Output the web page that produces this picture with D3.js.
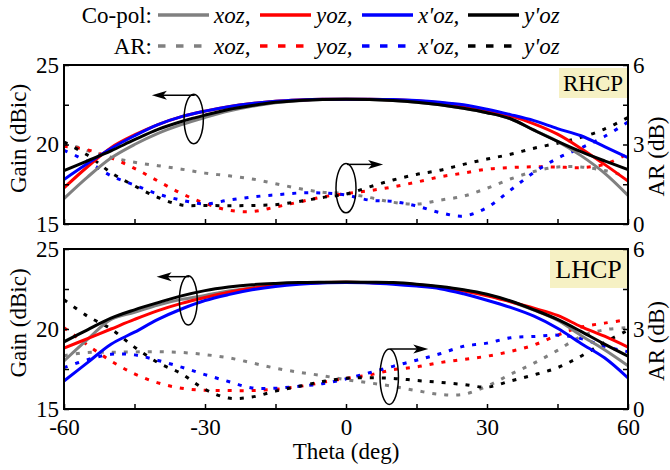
<!DOCTYPE html>
<html>
<head>
<meta charset="utf-8">
<script src="https://cdn.jsdelivr.net/npm/d3@7"></script>
<style>
  body { margin: 0; background: #fff; }
  svg { display: block; font-family: "Liberation Serif", "Times New Roman", serif; }
</style>
</head>
<body>
<svg id="chart" width="670" height="470"></svg>
<script>
// Observation angles (deg)
const theta = [-60, -55, -50, -45, -40, -35, -30, -25, -20, -15, -10, -5, 0,
               5, 10, 15, 20, 25, 30, 35, 40, 45, 50, 55, 60];

const xTickValues = [-60, -45, -30, -15, 0, 15, 30, 45, 60];
const xTickLabels = [-60, -30, 0, 30, 60];
const gainTickValues = [15, 17.5, 20, 22.5, 25];
const gainTickLabels = [15, 20, 25];
const arTickValues = [0, 1.5, 3, 4.5, 6];
const arTickLabels = [0, 3, 6];

const planeNames = ["xoz,", "yoz,", "x'oz,", "y'oz"];
const planeColors = ["#808080", "#ff0000", "#0000ff", "#000000"];

// RHCP co-pol gain (dBic)
const rhcpGainXoz  = [16.6, 17.95, 19.15, 20.0, 20.7, 21.25, 21.7, 22.1, 22.4, 22.62, 22.75, 22.83, 22.85, 22.83, 22.77, 22.66, 22.5, 22.28, 22.0, 21.62, 20.9, 20.2, 19.3, 18.2, 16.8];
const rhcpGainYoz  = [17.27, 18.6, 19.8, 20.6, 21.25, 21.75, 22.1, 22.38, 22.58, 22.72, 22.8, 22.85, 22.85, 22.85, 22.82, 22.75, 22.62, 22.43, 22.15, 21.8, 21.3, 20.65, 19.75, 18.75, 17.7];
const rhcpGainX2oz = [17.8, 18.8, 19.75, 20.55, 21.25, 21.75, 22.1, 22.38, 22.58, 22.72, 22.8, 22.85, 22.85, 22.85, 22.83, 22.77, 22.66, 22.5, 22.22, 21.88, 21.5, 21.0, 20.55, 19.87, 19.17];
const rhcpGainY2oz = [18.35, 18.97, 19.6, 20.3, 20.95, 21.45, 21.85, 22.2, 22.45, 22.65, 22.77, 22.83, 22.85, 22.83, 22.77, 22.66, 22.5, 22.28, 22.0, 21.62, 20.9, 20.2, 19.55, 18.97, 18.42];

// RHCP axial ratio (dB)
const rhcpArXoz  = [3.09, 2.77, 2.52, 2.33, 2.2, 2.07, 1.92, 1.82, 1.7, 1.52, 1.34, 1.2, 1.15, 1.0, 0.82, 0.75, 0.9, 1.05, 1.35, 1.7, 1.98, 2.15, 2.15, 2.02, 1.78];
const rhcpArYoz  = [2.93, 2.8, 2.5, 2.1, 1.62, 1.15, 0.78, 0.52, 0.47, 0.64, 0.83, 1.02, 1.15, 1.26, 1.4, 1.58, 1.78, 1.92, 2.07, 2.13, 2.16, 2.15, 2.13, 2.25, 2.65];
const rhcpArX2oz = [2.78, 2.36, 1.82, 1.47, 1.13, 0.9, 0.76, 0.9, 1.02, 1.1, 1.17, 1.17, 1.09, 0.9, 0.85, 0.68, 0.43, 0.3, 0.62, 1.28, 1.95, 2.48, 2.87, 3.3, 3.85];
const rhcpArY2oz = [3.09, 2.6, 1.94, 1.44, 1.0, 0.72, 0.7, 0.69, 0.7, 0.73, 0.85, 1.0, 1.13, 1.4, 1.66, 1.87, 2.03, 2.25, 2.45, 2.63, 2.86, 3.05, 3.27, 3.58, 4.02];

// LHCP co-pol gain (dBic)
const lhcpGainXoz  = [18.0, 19.35, 20.6, 21.05, 21.5, 21.85, 22.1, 22.37, 22.58, 22.74, 22.84, 22.9, 22.92, 22.91, 22.88, 22.78, 22.62, 22.42, 22.13, 21.72, 21.18, 20.55, 19.6, 18.7, 17.7];
const lhcpGainYoz  = [18.8, 19.4, 20.0, 20.6, 21.15, 21.6, 21.97, 22.3, 22.55, 22.72, 22.84, 22.9, 22.92, 22.9, 22.86, 22.77, 22.6, 22.38, 22.08, 21.7, 21.3, 20.85, 20.15, 19.55, 18.87];
const lhcpGainX2oz = [16.75, 17.9, 19.05, 19.8, 20.6, 21.25, 21.78, 22.15, 22.45, 22.66, 22.8, 22.88, 22.9, 22.88, 22.8, 22.68, 22.52, 22.2, 21.8, 21.35, 20.8, 20.05, 19.1, 18.2, 16.94];
const lhcpGainY2oz = [19.2, 19.95, 20.68, 21.2, 21.65, 22.07, 22.4, 22.62, 22.77, 22.85, 22.9, 22.92, 22.93, 22.92, 22.9, 22.8, 22.65, 22.45, 22.17, 21.75, 21.2, 20.6, 19.85, 19.05, 18.3];

// LHCP axial ratio (dB)
const lhcpArXoz  = [2.0, 2.12, 2.13, 2.14, 2.15, 2.12, 2.04, 1.92, 1.73, 1.53, 1.38, 1.25, 1.1, 0.98, 0.85, 0.69, 0.55, 0.55, 0.86, 1.3, 1.72, 2.2, 2.72, 2.97, 3.05];
const lhcpArYoz  = [3.05, 2.4, 1.8, 1.32, 0.98, 0.78, 0.7, 0.69, 0.69, 0.74, 0.84, 1.0, 1.15, 1.28, 1.47, 1.58, 1.74, 1.86, 1.98, 2.16, 2.4, 2.77, 3.07, 3.22, 3.35];
const lhcpArX2oz = [1.55, 1.85, 2.05, 2.03, 1.82, 1.57, 1.29, 1.03, 0.79, 0.78, 0.85, 0.95, 1.13, 1.36, 1.6, 1.83, 2.07, 2.35, 2.47, 2.67, 2.72, 2.77, 2.64, 2.35, 2.15];
const lhcpArY2oz = [4.1, 3.48, 3.0, 2.32, 1.74, 1.32, 0.74, 0.41, 0.45, 0.67, 0.85, 1.03, 1.15, 1.17, 1.15, 1.07, 1.0, 0.92, 0.82, 1.05, 1.28, 1.55, 1.98, 2.5, 2.95];

const svg = d3.select("#chart");
const left = 64, right = 628;
const x = d3.scaleLinear().domain([-60, 60]).range([left, right]);

const panels = [
  {
    name: "RHCP", top: 65, bottom: 224, showX: false,
    gain: [rhcpGainXoz, rhcpGainYoz, rhcpGainX2oz, rhcpGainY2oz],
    ar: [rhcpArXoz, rhcpArYoz, rhcpArX2oz, rhcpArY2oz],
    badge: { x0: 559, y0: 68, h: 30, fs: 23 },
    gainNote: { cx: -32.4, cy: 21.6, rx: 2.05, ry: 1.56, ay: 23.1, ax: -41.3 },
    arNote: { cx: 0, cy: 1.35, rx: 2.13, ry: 0.93, ay: 2.25, ax: 7.9 }
  },
  {
    name: "LHCP", top: 249, bottom: 409, showX: true,
    gain: [lhcpGainXoz, lhcpGainYoz, lhcpGainX2oz, lhcpGainY2oz],
    ar: [lhcpArXoz, lhcpArYoz, lhcpArX2oz, lhcpArY2oz],
    badge: { x0: 550, y0: 250, h: 38, fs: 26 },
    gainNote: { cx: -33.55, cy: 21.79, rx: 1.9, ry: 1.54, ay: 23.27, ax: -40.3 },
    arNote: { cx: 9.2, cy: 1.21, rx: 1.96, ry: 1.04, ay: 2.25, ax: 17.5 }
  }
];

const fontSize = 23;

panels.forEach((p, pi) => {
  const yG = d3.scaleLinear().domain([15, 25]).range([p.bottom, p.top]);
  const yA = d3.scaleLinear().domain([0, 6]).range([p.bottom, p.top]);
  const g = svg.append("g");

  const clipId = "clip" + pi;
  g.append("clipPath").attr("id", clipId).append("rect")
    .attr("x", left).attr("y", p.top).attr("width", right - left).attr("height", p.bottom - p.top);

  // badge with the polarisation name
  const bw = right - p.badge.x0 - 1, bh = p.badge.h;
  g.append("rect").attr("x", p.badge.x0).attr("y", p.badge.y0)
    .attr("width", bw).attr("height", bh).attr("fill", "#f6f1c4");
  g.append("text").attr("x", p.badge.x0 + bw / 2).attr("y", p.badge.y0 + bh / 2)
    .attr("dy", "0.35em").attr("text-anchor", "middle")
    .attr("font-size", p.badge.fs).text(p.name);

  const plot = g.append("g").attr("clip-path", `url(#${clipId})`);

  // AR curves (dotted)
  const arLine = d3.line().x((d, i) => x(theta[i])).y(d => yA(d)).curve(d3.curveCatmullRom.alpha(0.5));
  p.ar.forEach((vals, si) => {
    plot.append("path").datum(vals).attr("d", arLine)
      .attr("fill", "none").attr("stroke", planeColors[si])
      .attr("stroke-width", 3).attr("stroke-dasharray", "4,8");
  });

  // co-pol gain curves (solid)
  const gainLine = d3.line().x((d, i) => x(theta[i])).y(d => yG(d)).curve(d3.curveCatmullRom.alpha(0.5));
  p.gain.forEach((vals, si) => {
    plot.append("path").datum(vals).attr("d", gainLine)
      .attr("fill", "none").attr("stroke", planeColors[si])
      .attr("stroke-width", 3);
  });

  // annotation ellipses with arrows pointing to the relevant axis
  const notes = [[p.gainNote, yG, -1], [p.arNote, yA, 1]];
  notes.forEach(([n, ys, dir]) => {
    const cx = x(n.cx), cy = ys(n.cy);
    const rx = x(n.cx + n.rx) - cx, ry = ys(n.cy) - ys(n.cy + n.ry);
    g.append("ellipse").attr("cx", cx).attr("cy", cy).attr("rx", rx).attr("ry", ry)
      .attr("fill", "none").attr("stroke", "#000").attr("stroke-width", 1.5);
    const ay = ys(n.ay), x0 = x(n.cx) + 1, x1 = x(n.ax);
    const head = 15;
    g.append("line").attr("x1", x0).attr("y1", ay).attr("x2", x1 - dir * head * 0.6).attr("y2", ay)
      .attr("stroke", "#000").attr("stroke-width", 1.5);
    g.append("path")
      .attr("d", `M${x1},${ay} L${x1 - dir * head},${ay - 4.5} L${x1 - dir * head * 0.75},${ay} L${x1 - dir * head},${ay + 4.5} Z`)
      .attr("fill", "#000");
  });

  // axes
  const axL = d3.axisLeft(yG).tickValues(gainTickValues).tickSizeInner(-5).tickSizeOuter(0).tickPadding(5)
    .tickFormat(d => gainTickLabels.includes(d) ? d : "");
  const axR = d3.axisRight(yA).tickValues(arTickValues).tickSizeInner(-5).tickSizeOuter(0).tickPadding(5)
    .tickFormat(d => arTickLabels.includes(d) ? d : "");
  const axB = d3.axisBottom(x).tickValues(xTickValues).tickSizeInner(-5).tickSizeOuter(0).tickPadding(10)
    .tickFormat(d => p.showX && xTickLabels.includes(d) ? d : "");

  [[axL, `translate(${left},0)`], [axR, `translate(${right},0)`], [axB, `translate(0,${p.bottom})`]]
    .forEach(([ax, tr]) => {
      const a = g.append("g").attr("transform", tr).call(ax);
      a.select(".domain").remove();
      a.selectAll(".tick line").attr("stroke", "#000").attr("stroke-width", 1.5);
      a.selectAll("text").attr("font-size", fontSize).attr("fill", "#000")
        .attr("font-family", "Liberation Serif, Times New Roman, serif");
    });

  // plot frame
  g.append("rect").attr("x", left).attr("y", p.top).attr("width", right - left).attr("height", p.bottom - p.top)
    .attr("fill", "none").attr("stroke", "#000").attr("stroke-width", 2);

  // axis titles
  const midY = (p.top + p.bottom) / 2;
  g.append("text").attr("transform", `translate(26,${midY - 6}) rotate(-90)`)
    .attr("text-anchor", "middle").attr("font-size", fontSize).text("Gain (dBic)");
  g.append("text").attr("transform", `translate(664,${midY + 12}) rotate(-90)`)
    .attr("text-anchor", "middle").attr("font-size", fontSize).text("AR (dB)");
});

svg.append("text").attr("x", x(0)).attr("y", 459).attr("text-anchor", "middle")
  .attr("font-size", fontSize).text("Theta (deg)");

// legend
const legendRows = [
  { label: "Co-pol:", y: 15, dash: null },
  { label: "AR:", y: 46, dash: "7.5,10.5" }
];
const sampleStarts = [158, 260, 362, 468];
const sampleLen = 51;
legendRows.forEach(r => {
  const lg = svg.append("g");
  lg.append("text").attr("x", 152).attr("y", r.y).attr("dy", "0.35em").attr("text-anchor", "end")
    .attr("font-size", fontSize).text(r.label);
  planeNames.forEach((nm, i) => {
    const sx = sampleStarts[i];
    lg.append("line").attr("x1", sx).attr("x2", sx + sampleLen).attr("y1", r.y).attr("y2", r.y)
      .attr("stroke", planeColors[i]).attr("stroke-width", 3.5)
      .attr("stroke-dasharray", r.dash);
    lg.append("text").attr("x", sx + sampleLen + 5).attr("y", r.y).attr("dy", "0.35em")
      .attr("font-size", fontSize).attr("font-style", "italic").text(nm);
  });
});
</script>
</body>
</html>
